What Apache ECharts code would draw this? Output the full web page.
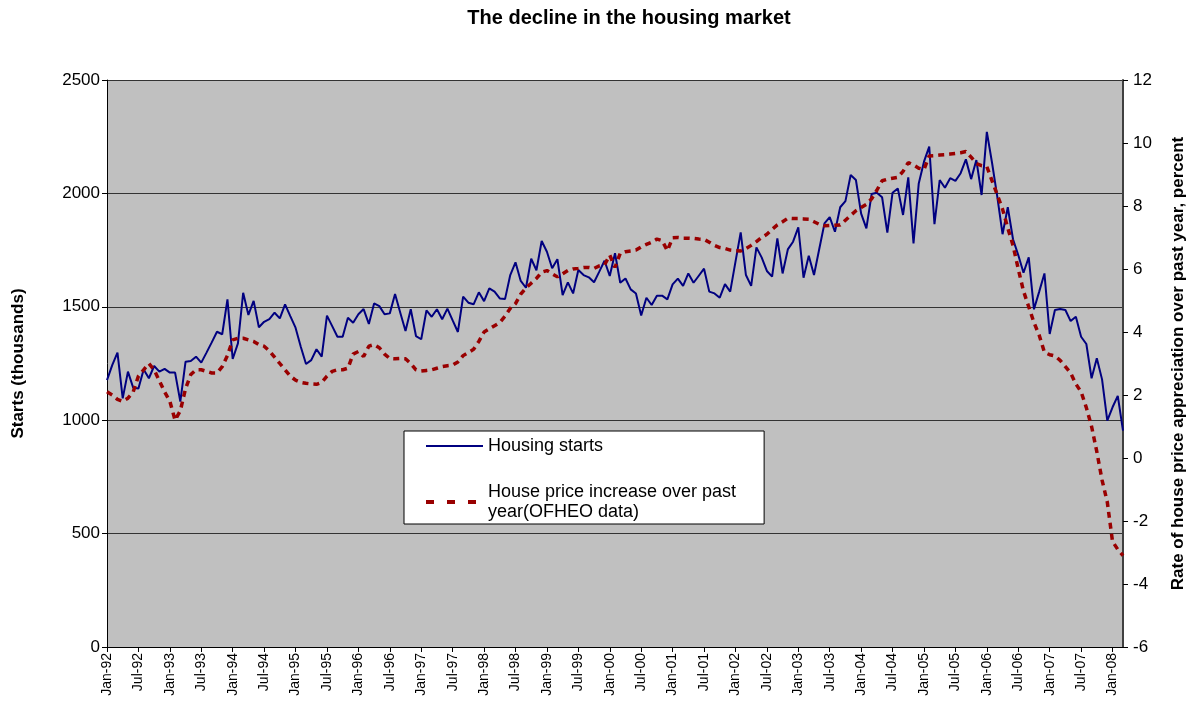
<!DOCTYPE html>
<html>
<head>
<meta charset="utf-8">
<title>The decline in the housing market</title>
<script src="https://cdn.jsdelivr.net/npm/echarts@6.0.0/dist/echarts.min.js"></script>
<style>
  html, body { margin: 0; padding: 0; background: #fff; }
  #housing-chart { width: 1188px; height: 711px; }
</style>
</head>
<body>
<div id="housing-chart"></div>
<script>
// month labels Jan-92 .. Mar-08
const monthNames = ['Jan', 'Feb', 'Mar', 'Apr', 'May', 'Jun', 'Jul', 'Aug', 'Sep', 'Oct', 'Nov', 'Dec']
const yearLabels = ['92', '93', '94', '95', '96', '97', '98', '99', '00', '01', '02', '03', '04', '05', '06', '07', '08']
const lastYearMonths = 3

const categories = []
yearLabels.forEach((yy, yi) => {
  const count = yi === yearLabels.length - 1 ? lastYearMonths : 12
  for (let m = 0; m < count; m++) {
    categories.push(monthNames[m] + '-' + yy)
  }
})

// housing starts, thousands (one row per year)
const housingStarts = [
  1177, 1243, 1298, 1096, 1214, 1143, 1140, 1224, 1185, 1239, 1214, 1226,
  1210, 1210, 1082, 1258, 1261, 1280, 1254, 1298, 1343, 1390, 1379, 1533,
  1270, 1339, 1562, 1464, 1526, 1410, 1434, 1446, 1474, 1449, 1511, 1459,
  1408, 1324, 1248, 1265, 1313, 1280, 1461, 1415, 1368, 1368, 1452, 1430,
  1467, 1490, 1424, 1515, 1503, 1467, 1471, 1556, 1474, 1393, 1489, 1371,
  1357, 1484, 1456, 1489, 1445, 1492, 1440, 1389, 1545, 1518, 1511, 1564,
  1525, 1581, 1567, 1537, 1534, 1640, 1696, 1614, 1584, 1712, 1661, 1790,
  1743, 1670, 1710, 1552, 1608, 1559, 1662, 1640, 1630, 1608, 1655, 1703,
  1636, 1736, 1606, 1625, 1577, 1559, 1462, 1540, 1508, 1549, 1549, 1533,
  1599, 1624, 1592, 1647, 1606, 1637, 1668, 1567, 1559, 1540, 1600, 1567,
  1698, 1828, 1640, 1592, 1762, 1718, 1658, 1633, 1802, 1647, 1753, 1787,
  1850, 1628, 1725, 1640, 1755, 1868, 1895, 1831, 1939, 1966, 2081, 2059,
  1911, 1846, 1997, 2003, 1983, 1827, 2003, 2022, 1905, 2071, 1780, 2044,
  2140, 2206, 1864, 2059, 2025, 2067, 2055, 2089, 2150, 2063, 2147, 1993,
  2271, 2134, 1985, 1820, 1939, 1798, 1728, 1650, 1718, 1489, 1567, 1647,
  1380, 1486, 1490, 1486, 1437, 1456, 1368, 1336, 1185, 1273, 1180, 998,
  1057, 1107, 954
]

// house price increase over past year, percent (OFHEO)
const priceIncrease = [
  2.1, 2.0, 1.86, 1.8, 1.9, 2.1, 2.6, 2.8, 3.0, 2.8, 2.45, 2.1,
  1.8, 1.2, 1.5, 2.2, 2.65, 2.8, 2.8, 2.75, 2.7, 2.7, 2.9, 3.25,
  3.75, 3.8, 3.8, 3.75, 3.7, 3.6, 3.55, 3.4, 3.2, 3.0, 2.8, 2.6,
  2.47, 2.4, 2.37, 2.35, 2.34, 2.4, 2.6, 2.75, 2.8, 2.8, 2.85, 3.3,
  3.38, 3.22, 3.55, 3.6, 3.5, 3.3, 3.16, 3.15, 3.16, 3.15, 3.0, 2.8,
  2.76, 2.78, 2.8, 2.85, 2.9, 2.93, 2.95, 3.05, 3.25, 3.35, 3.45, 3.7,
  4.0, 4.1, 4.2, 4.3, 4.5, 4.75, 4.9, 5.2, 5.4, 5.55, 5.7, 5.9,
  5.95, 5.85, 5.75, 5.85, 5.95, 6.0, 6.02, 6.05, 6.05, 6.02, 6.1, 6.13,
  6.44, 6.05, 6.5, 6.55, 6.57, 6.6, 6.7, 6.78, 6.85, 6.95, 6.9, 6.58,
  6.99, 7.0, 6.98, 6.98, 6.97, 6.95, 6.94, 6.85, 6.75, 6.68, 6.65, 6.6,
  6.58, 6.57, 6.65, 6.75, 6.87, 7.0, 7.1, 7.26, 7.4, 7.5, 7.61, 7.6,
  7.6, 7.59, 7.58, 7.5, 7.42, 7.37, 7.38, 7.39, 7.4, 7.55, 7.7, 7.85,
  7.95, 8.05, 8.23, 8.5, 8.8, 8.85, 8.88, 8.91, 9.1, 9.38, 9.3, 9.2,
  9.16, 9.59, 9.6, 9.62, 9.63, 9.65, 9.67, 9.69, 9.73, 9.55, 9.35, 9.28,
  9.25, 8.8, 8.35, 7.9, 7.3, 6.75, 6.0, 5.3, 4.8, 4.3, 3.9, 3.35,
  3.28, 3.24, 3.1, 2.9, 2.7, 2.35, 2.1, 1.6, 1.0, 0.2, -0.7, -1.4,
  -2.65, -2.9, -3.1
]

const startsTicks = { min: 0, max: 2500, interval: 500 }
const priceTicks = { min: -6, max: 12, interval: 2 }

const startsName = 'Housing starts'
const priceName = 'House price increase over past\nyear(OFHEO data)'

const fontFamily = '"Liberation Sans", Arial, sans-serif'

const chartInstance = echarts.init(document.getElementById('housing-chart'))

chartInstance.setOption({
  animation: false,
  backgroundColor: '#ffffff',
  textStyle: { fontFamily: fontFamily, color: '#000' },
  title: {
    text: 'The decline in the housing market',
    left: 624,
    top: 3,
    textAlign: 'center',
    textStyle: {
      fontFamily: fontFamily,
      fontSize: 20,
      fontWeight: 'bold',
      color: '#000'
    }
  },
  legend: {
    orient: 'vertical',
    left: 404,
    top: 431,
    padding: [5, 28, 2, 20],
    itemGap: 26,
    itemWidth: 57,
    itemHeight: 14,
    // hide the marker dot, keep only the line sample
    itemStyle: { opacity: 0 },
    backgroundColor: '#ffffff',
    borderColor: '#000000',
    borderWidth: 1,
    borderRadius: 0,
    textStyle: {
      fontFamily: fontFamily,
      fontSize: 18,
      lineHeight: 20,
      color: '#000'
    },
    data: [
      { name: startsName, lineStyle: { width: 2 } },
      { name: priceName, lineStyle: { width: 4, type: [8, 13] } }
    ]
  },
  grid: {
    left: 107,
    right: 65,
    top: 80,
    bottom: 64,
    outerBoundsMode: 'none',
    show: true,
    backgroundColor: '#c0c0c0',
    borderWidth: 0
  },
  xAxis: {
    type: 'category',
    boundaryGap: false,
    data: categories,
    axisLine: { show: true, lineStyle: { color: '#000', width: 1 } },
    axisTick: { show: true, interval: 5, length: 5, lineStyle: { color: '#000' } },
    axisLabel: {
      interval: 5,
      rotate: 90,
      fontSize: 14,
      color: '#000',
      margin: 6
    },
    splitLine: { show: false }
  },
  yAxis: [
    {
      type: 'value',
      min: startsTicks.min,
      max: startsTicks.max,
      interval: startsTicks.interval,
      name: 'Starts (thousands)',
      nameLocation: 'middle',
      nameRotate: 90,
      nameGap: 80,
      nameTextStyle: { fontSize: 17, fontWeight: 'bold', color: '#000' },
      axisLine: { show: true, lineStyle: { color: '#000', width: 1 } },
      axisTick: { show: true, length: 5, lineStyle: { color: '#000' } },
      axisLabel: {
        fontSize: 17,
        color: '#000',
        margin: 7,
        formatter: (v) => String(v)
      },
      splitLine: { show: true, lineStyle: { color: '#333333', width: 1 } }
    },
    {
      type: 'value',
      position: 'right',
      min: priceTicks.min,
      max: priceTicks.max,
      interval: priceTicks.interval,
      name: 'Rate of house price appreciation over past year, percent',
      nameLocation: 'middle',
      nameRotate: 90,
      nameGap: 47,
      nameTextStyle: { fontSize: 17, fontWeight: 'bold', color: '#000' },
      axisLine: { show: true, lineStyle: { color: '#404040', width: 2 } },
      axisTick: { show: true, length: 5, lineStyle: { color: '#000' } },
      axisLabel: {
        fontSize: 17,
        color: '#000',
        margin: 10,
        formatter: (v) => String(v)
      },
      splitLine: { show: false }
    }
  ],
  series: [
    {
      name: startsName,
      type: 'line',
      yAxisIndex: 0,
      data: housingStarts,
      symbol: 'none',
      showSymbol: false,
      color: '#000080',
      lineStyle: { color: '#000080', width: 2 }
    },
    {
      name: priceName,
      type: 'line',
      yAxisIndex: 1,
      data: priceIncrease,
      symbol: 'none',
      showSymbol: false,
      color: '#990000',
      lineStyle: { color: '#990000', width: 3.5, type: [6, 5] }
    }
  ]
})
</script>
</body>
</html>
